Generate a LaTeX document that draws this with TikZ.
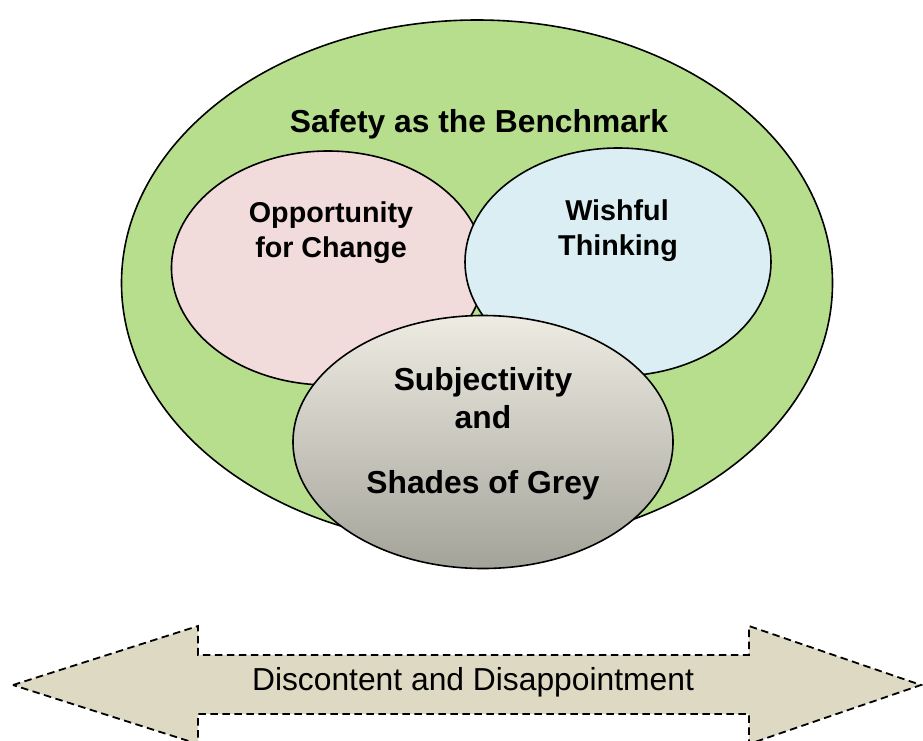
\documentclass[tikz,border=0pt]{standalone}
\usepackage{fontspec}
\setmainfont{Liberation Sans}
\usetikzlibrary{shapes.geometric}
\definecolor{greenfill}{RGB}{183,222,140}
\definecolor{pinkfill}{RGB}{242,220,219}
\definecolor{bluefill}{RGB}{219,238,244}
\definecolor{greytop}{RGB}{238,236,226}
\definecolor{greybot}{RGB}{164,163,154}
\definecolor{tanfill}{RGB}{221,217,195}
\tikzset{
  blob/.style={ellipse, draw=black, line width=1.6pt, inner sep=0pt},
  bigtext/.style={anchor=base, inner sep=0pt, font=\bfseries\fontsize{31.8}{37}\selectfont},
  midtext/.style={anchor=base, inner sep=0pt, font=\bfseries\fontsize{28.7}{34}\selectfont},
  arrowtext/.style={anchor=base, inner sep=0pt, font=\fontsize{31.8}{37}\selectfont},
  dasharrow/.style={fill=tanfill, draw=black, line width=1.8pt, dash pattern=on 7.5pt off 4.5pt, line join=miter}
}
\begin{document}
\begin{tikzpicture}[x=1pt,y=-1pt]
\useasboundingbox (0,0) rectangle (923,740);
% ellipses
\node[blob, fill=greenfill, minimum width=711pt, minimum height=526pt] (safety) at (477,283) {};
\node[blob, fill=pinkfill, minimum width=313pt, minimum height=234pt] (opp) at (328,268) {};
\node[blob, fill=bluefill, minimum width=306pt, minimum height=228pt] (wish) at (618,262) {};
\node[blob, top color=greytop, bottom color=greybot, minimum width=380pt, minimum height=253pt] (subj) at (483,442) {};
% texts
\node[bigtext] (tsafety) at (479,132) {Safety as the Benchmark};
\node[midtext] (topp1) at (331,222) {Opportunity};
\node[midtext] (topp2) at (331,257) {for Change};
\node[midtext] (twish1) at (617,220) {Wishful};
\node[midtext] (twish2) at (618,255) {Thinking};
\node[bigtext] (tsubj1) at (483,390) {Subjectivity};
\node[bigtext] (tsubj2) at (483,428) {and};
\node[bigtext] (tsubj3) at (483,493) {Shades of Grey};
% double arrow
\coordinate (ltip) at (13,685);
\coordinate (rtip) at (921,685);
\draw[dasharrow] (ltip) -- (198,626) -- (198,655) -- (749,655) -- (749,626) -- (rtip)
  -- (749,744) -- (749,714) -- (198,714) -- (198,744) -- cycle;
\node[arrowtext] (tdisc) at (473,690) {Discontent and Disappointment};
\end{tikzpicture}
\end{document}
